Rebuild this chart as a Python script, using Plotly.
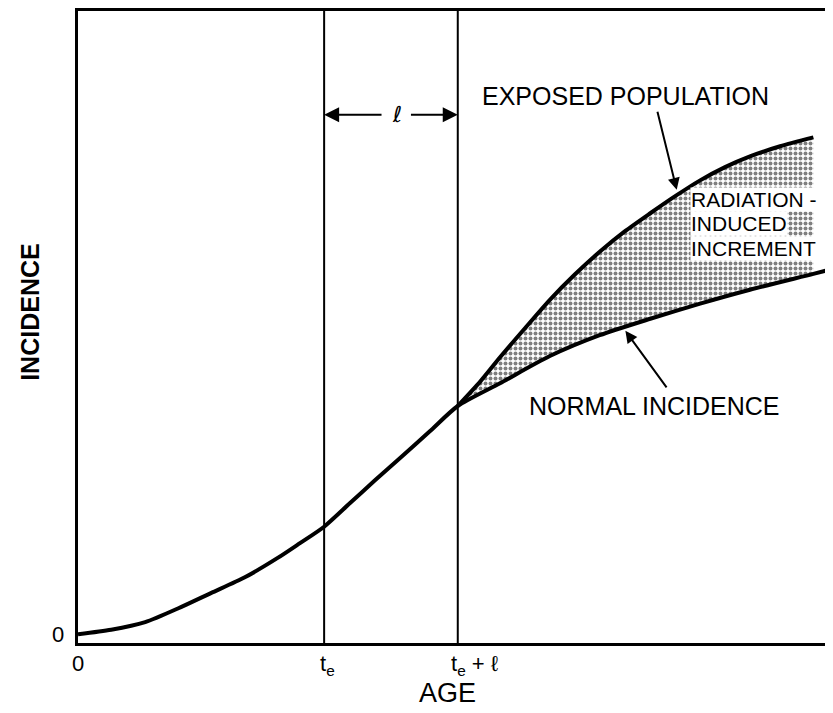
import numpy as np
import plotly.graph_objects as go

age_normal = [0.0, 4.4, 8.9, 13.3, 17.6, 22.1, 26.5, 29.4, 32.6, 36.0, 39.3, 42.7,
              46.6, 50.3, 55.9, 62.5, 69.1, 75.8, 82.4, 89.0, 97.4, 100.0]
inc_normal = [1.4, 2.1, 3.3, 5.5, 7.9, 10.4, 13.5, 15.8, 18.4, 22.1, 25.7, 29.3,
              33.5, 37.5, 41.1, 45.4, 48.7, 51.3, 53.7, 55.9, 58.4, 59.2]

age_exposed = [50.3, 53.3, 55.9, 59.2, 62.5, 65.8, 69.1, 72.5, 75.8, 79.1, 82.4,
               85.7, 89.0, 93.0, 97.4]
inc_exposed = [37.5, 41.4, 45.2, 49.8, 54.3, 58.3, 61.9, 65.2, 68.0, 70.7, 73.2,
               75.3, 77.0, 78.6, 80.0]

t_e = 32.6
t_e_plus_l = 50.3
x_ticks = [0, t_e, t_e_plus_l]
x_ticktext = ["0", "t<sub>e</sub>", "t<sub>e</sub> + ℓ"]

FONT = "Liberation Sans"

fig = go.Figure()

# shaded radiation-induced increment
an = np.array(age_normal)
inn = np.array(inc_normal)
mask = (an >= age_exposed[0]) & (an <= age_exposed[-1])
poly_x = list(age_exposed) + list(an[mask][::-1])
poly_y = list(inc_exposed) + list(inn[mask][::-1])
fig.add_trace(go.Scatter(
    x=poly_x, y=poly_y, fill="toself", mode="lines",
    line=dict(width=0, color="rgba(0,0,0,0)"),
    fillcolor="white",
    fillpattern=dict(shape=".", size=5, solidity=0.5, fgcolor="black", bgcolor="white"),
    hoverinfo="skip", showlegend=False))

# curves
fig.add_trace(go.Scatter(x=age_normal, y=inc_normal, mode="lines",
                         line=dict(color="black", width=4, shape="spline", smoothing=0.7),
                         showlegend=False))
fig.add_trace(go.Scatter(x=age_exposed, y=inc_exposed, mode="lines",
                         line=dict(color="black", width=4, shape="spline", smoothing=0.7),
                         showlegend=False))

# vertical guide lines
for xv in [t_e, t_e_plus_l]:
    fig.add_shape(type="line", xref="x", yref="paper", x0=xv, x1=xv, y0=0, y1=1,
                  line=dict(color="black", width=2))

ann = []
# dimension arrow for l
arrow_y = 83.6
ann.append(dict(x=t_e, y=arrow_y, ax=40.4, ay=arrow_y, xref="x", yref="y",
                axref="x", ayref="y", text="", showarrow=True, arrowhead=2,
                arrowsize=1.5, arrowwidth=2, arrowcolor="black", standoff=0))
ann.append(dict(x=t_e_plus_l, y=arrow_y, ax=43.9, ay=arrow_y, xref="x", yref="y",
                axref="x", ayref="y", text="", showarrow=True, arrowhead=2,
                arrowsize=1.5, arrowwidth=2, arrowcolor="black", standoff=0))
ann.append(dict(x=42.2, y=arrow_y, xref="x", yref="y", text="<i>ℓ</i>",
                showarrow=False, yanchor="middle",
                font=dict(family="DejaVu Sans", size=22, color="black")))

# labels
ann.append(dict(x=72.5, y=86.5, xref="x", yref="y", text="EXPOSED POPULATION",
                showarrow=False, yanchor="middle",
                font=dict(family=FONT, size=25, color="black")))
ann.append(dict(x=79.3, y=71.7, ax=76.7, ay=84.3, xref="x", yref="y",
                axref="x", ayref="y", text="", showarrow=True, arrowhead=2,
                arrowsize=1.2, arrowwidth=2, arrowcolor="black", standoff=0))
ann.append(dict(x=76.4, y=37.5, xref="x", yref="y", text="NORMAL INCIDENCE",
                showarrow=False, yanchor="middle",
                font=dict(family=FONT, size=25, color="black")))
ann.append(dict(x=72.5, y=49.4, ax=78.1, ay=40.2, xref="x", yref="y",
                axref="x", ayref="y", text="", showarrow=True, arrowhead=2,
                arrowsize=1.2, arrowwidth=2, arrowcolor="black", standoff=0))
for txt, yy in [("RADIATION -", 70.2), ("INDUCED", 66.3), ("INCREMENT", 62.5)]:
    ann.append(dict(x=81.1, y=yy, xref="x", yref="y", text=txt, xanchor="left",
                    yanchor="middle", showarrow=False, bgcolor="white", borderpad=0,
                    font=dict(family=FONT, size=21, color="black")))

# tick labels
ann.append(dict(x=x_ticks[0], y=0, xref="x", yref="paper", text=x_ticktext[0],
                showarrow=False, yanchor="middle", yshift=-20,
                font=dict(family=FONT, size=22, color="black")))
ann.append(dict(x=x_ticks[1], y=0, xref="x", yref="paper", text=x_ticktext[1],
                showarrow=False, yanchor="middle", yshift=-22, xshift=3,
                font=dict(family=FONT, size=22, color="black")))
ann.append(dict(x=x_ticks[2], y=0, xref="x", yref="paper", text=x_ticktext[2],
                showarrow=False, yanchor="middle", yshift=-22, xanchor="left", xshift=-9,
                font=dict(family=FONT, size=22, color="black")))
ann.append(dict(x=0, y=inc_normal[0], xref="paper", yref="y", text="0",
                showarrow=False, xanchor="right", yanchor="middle", xshift=-12,
                font=dict(family=FONT, size=22, color="black")))

# axis titles
ann.append(dict(x=0, y=0.524, xref="paper", yref="paper", text="<b>INCIDENCE</b>",
                showarrow=False, textangle=-90, xanchor="center", yanchor="middle",
                xshift=-48, font=dict(family=FONT, size=25, color="black")))
ann.append(dict(x=48.9, y=0, xref="x", yref="paper", text="AGE",
                showarrow=False, yanchor="middle", yshift=-50,
                font=dict(family=FONT, size=27, color="black")))

# page has an 8px body margin: size the figure so the plot area lands where the reference has it
fig.update_layout(
    width=825, height=705,
    margin=dict(l=70, r=0, t=1, b=70),
    paper_bgcolor="white", plot_bgcolor="white",
    annotations=ann,
    xaxis=dict(range=[0, 100], showgrid=False, zeroline=False, showticklabels=False,
               ticks="", showline=True, linecolor="black", linewidth=3, mirror=True),
    yaxis=dict(range=[0, 100], showgrid=False, zeroline=False, showticklabels=False,
               ticks="", showline=True, linecolor="black", linewidth=3),
)

fig.write_html("out.html")
